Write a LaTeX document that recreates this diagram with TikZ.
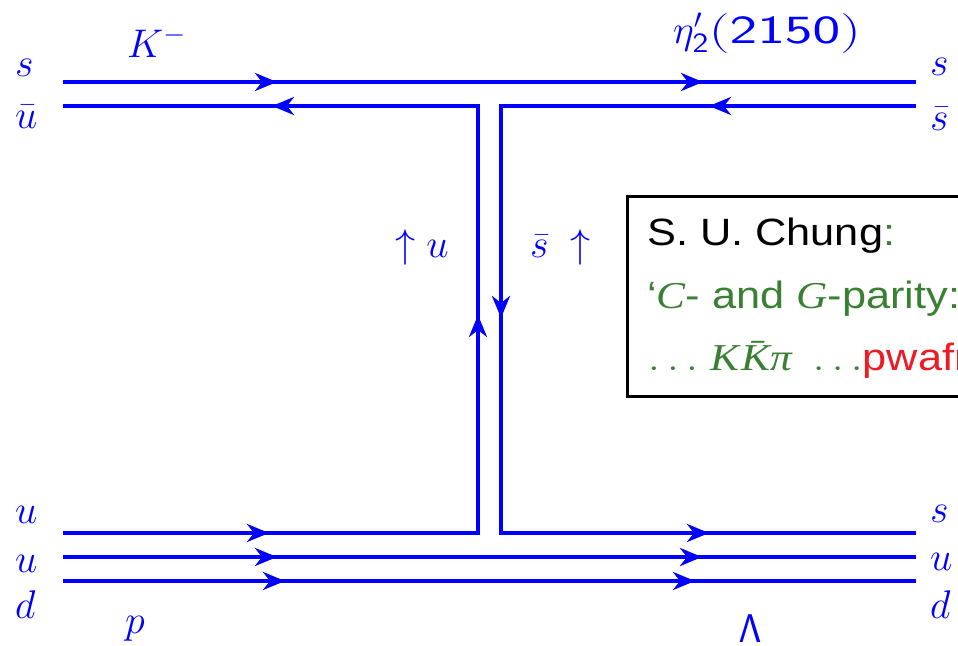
\documentclass[tikz,border=0pt]{standalone}
\usepackage{fix-cm}
\usepackage{graphicx}
\usepackage[no-math]{fontspec}
\newfontfamily\hv{Liberation Sans}
\newfontfamily\tm{Liberation Serif}
\usetikzlibrary{arrows.meta}
\definecolor{qblue}{RGB}{0,0,255}
\definecolor{cgreen}{RGB}{58,128,50}
\definecolor{cred}{RGB}{237,28,36}
\begin{document}
\begin{tikzpicture}[x=1pt,y=-1pt,
  quark/.style={qblue,line width=4pt},
  qtip/.style={qblue,line width=4pt,-{Stealth[length=22pt,width=18pt,inset=7pt]}},
  lab/.style={text=qblue,inner sep=0pt,anchor=base west,font=\fontsize{40}{48}\selectfont},
  boxtext/.style={inner sep=0pt,anchor=base west,font=\hv\fontsize{38}{46}\selectfont}]
\useasboundingbox (0,0) rectangle (958,645);
\clip (0,0) rectangle (958,645);
% quark lines
\coordinate (A1) at (63,82);  \coordinate (A2) at (916,82);
\coordinate (B1) at (63,106); \coordinate (BL) at (478,106);
\coordinate (BR) at (501,106); \coordinate (B2) at (916,106);
\coordinate (C1) at (63,533); \coordinate (CL) at (478,533);
\coordinate (CR) at (501,533); \coordinate (C2) at (916,533);
\coordinate (D1) at (63,557); \coordinate (D2) at (916,557);
\coordinate (E1) at (63,581); \coordinate (E2) at (916,581);
\draw[quark] (A1) -- (A2);
\draw[quark] (C1) -- (CL) -- (BL) -- (B1);
\draw[quark] (B2) -- (BR) -- (CR) -- (C2);
\draw[quark] (D1) -- (D2);
\draw[quark] (E1) -- (E2);
% arrow heads
\draw[qtip] (257,82) -- (277,82);
\draw[qtip] (683,82) -- (703,82);
\draw[qtip] (292,106) -- (272,106);
\draw[qtip] (729,106) -- (709,106);
\draw[qtip] (478,335) -- (478,315);
\draw[qtip] (501,298) -- (501,318);
\draw[qtip] (249,533) -- (269,533);
\draw[qtip] (689,533) -- (709,533);
\draw[qtip] (257,557) -- (277,557);
\draw[qtip] (682,557) -- (702,557);
\draw[qtip] (265,581) -- (285,581);
\draw[qtip] (675,581) -- (695,581);
% labels
\node[lab] (ls) at (15,76) {$s$};
\node[lab] (lub) at (15,128) {$\bar u$};
\node[lab] (K) at (127,57) {$K^-$};
\node[lab] (eta) at (673,43) {$\eta'_{\scalebox{1.2}[1]{$\scriptstyle\mathsf{2}$}}\scalebox{1.47}[1]{$\mathsf{(2150)}$}$};
\node[lab] (rs) at (930,75) {$s$};
\node[lab] (rsb) at (930,130) {$\bar s$};
\node[lab] (lu1) at (15,523) {$u$};
\node[lab] (lu2) at (15,572) {$u$};
\node[lab] (ld) at (15,618) {$d$};
\node[lab] (rs2) at (930,522) {$s$};
\node[lab] (ru) at (930,570) {$u$};
\node[lab] (rd) at (930,618) {$d$};
\node[lab] (p) at (125,633) {$p$};
\node[lab,anchor=base] (Lam) at (750,642) {$\mathsf{\Lambda}$};
\node[lab] (up) at (395,257) {$\uparrow u$};
\node[lab] (sb) at (530,257) {$\bar s\;\uparrow$};
% box
\node[draw,line width=3pt,outer sep=0pt,inner sep=0pt,anchor=north west,
      minimum width=500pt,minimum height=199.5pt] (box) at (627,196.5) {};
\node[boxtext] (t1) at (647,245) {\scalebox{1.14}[1]{S. U. Chung\textcolor{cgreen}{:}}};
\node[boxtext,text=cgreen] (t2) at (647,308) {\scalebox{1.14}[1]{‘{\tm\itshape C}- and {\tm\itshape G}-parity:}};
\node[boxtext,text=cgreen] (t3) at (648,370) {\scalebox{1.14}[1]{$\ldots$ {\tm\itshape K\kern2pt K̄π}\ \kern8pt$\ldots$\textcolor{cred}{pwafr}}};
\end{tikzpicture}
\end{document}
